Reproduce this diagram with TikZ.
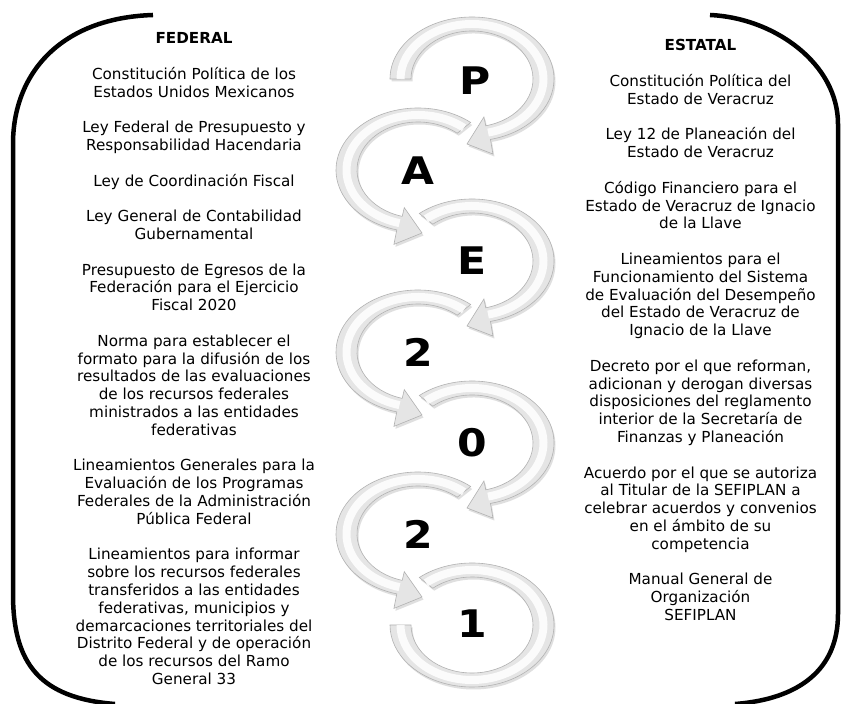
\documentclass[tikz,border=0pt]{standalone}
\usepackage{fontspec}
\setmainfont{DejaVu Sans}
\usepackage{tikz}
\usetikzlibrary{
    calc,
    shadows
}
\tikzset{
    ring body/.style={fill=gray!20, draw=gray!60, line width=0.6pt,
        drop shadow={shadow xshift=1.5pt, shadow yshift=-2.5pt, opacity=0.25}},
    ring shine/.style={draw=white, line width=8pt, opacity=0.85},
    % clockwise ring, tail at angle #1, head at the bottom pointing left
    pics/cw ring/.style={code={
        \path[ring body] (#1:82 and 62) arc[start angle=#1, end angle=-77, x radius=82, y radius=62]
            -- (-77:93 and 77) -- (-5,-65) -- (-77:53 and 39) -- (-77:61 and 48)
            arc[start angle=-77, end angle=#1, x radius=61, y radius=48] -- cycle;
        \draw[ring shine] (#1:71.5 and 55) arc[start angle=#1, end angle=-77, x radius=71.5, y radius=55];
    }},
    % counter-clockwise ring, tail at angle #1, head at the bottom pointing right
    pics/ccw ring/.style={code={
        \path[ring body] (#1:82 and 62) arc[start angle=#1, end angle=255, x radius=82, y radius=62]
            -- (255:93 and 77) -- (4,-63) -- (255:53 and 39) -- (255:61 and 48)
            arc[start angle=255, end angle=#1, x radius=61, y radius=48] -- cycle;
        \draw[ring shine] (#1:71.5 and 55) arc[start angle=#1, end angle=255, x radius=71.5, y radius=55];
    }},
    % last ring, no head
    pics/end ring/.style={code={
        \path[ring body] (#1:82 and 62) arc[start angle=#1, end angle=-180, x radius=82, y radius=62]
            -- (-180:61 and 48)
            arc[start angle=-180, end angle=#1, x radius=61, y radius=48] -- cycle;
        \draw[ring shine] (#1:71.5 and 55) arc[start angle=#1, end angle=-180, x radius=71.5, y radius=55];
    }}
}

\begin{document}
\begin{tikzpicture}[
        x=1pt, y=1pt,
        bracket/.style={line width=4.5pt, line cap=butt},
        big letter/.style={font=\fontsize{38}{40}\selectfont\bfseries, inner sep=0pt, xscale=1.12},
        law text/.style={align=center, inner sep=0pt, font=\fontsize{15.2}{17.8}\selectfont}
    ]
    \path[use as bounding box, fill=white] (0,0) rectangle (841,704);

    % ring centres
    \coordinate (cP) at (472,625);
    \coordinate (cA) at (418,534);
    \coordinate (cE) at (472,443);
    \coordinate (c2a) at (418,352);
    \coordinate (c0) at (472,261);
    \coordinate (c2b) at (418,170);
    \coordinate (c1) at (472,79);

    % rings, bottom first so every head lies on the next tail
    \pic at (c1) {end ring=130};
    \pic at (c2b) {ccw ring=50};
    \pic at (c0) {cw ring=130};
    \pic at (c2a) {ccw ring=50};
    \pic at (cE) {cw ring=130};
    \pic at (cA) {ccw ring=50};
    \pic at (cP) {cw ring=180};

    \node[big letter] (lP) at ([xshift=3pt, yshift=-2pt]cP) {P};
    \node[big letter] (lA) at ([yshift=-1pt]cA) {A};
    \node[big letter] (lE) at (cE) {E};
    \node[big letter] (l2a) at (c2a) {2};
    \node[big letter] (l0) at (c0) {0};
    \node[big letter] (l2b) at (c2b) {2};
    \node[big letter] (l1) at ([yshift=1pt]c1) {1};

    % brackets
    \draw[bracket] (153,689) .. controls (60,686) and (13,630) .. (13,560)
        -- (13,110) .. controls (13,40) and (40,6) .. (115,0);
    \draw[bracket] (710,689) .. controls (775,686) and (838,640) .. (838,580)
        -- (838,90) .. controls (838,35) and (800,5) .. (735,0);

    \node[law text, anchor=north] (federal) at (194,671.5) {%
        \textbf{FEDERAL}\\[17.8pt]
        Constitución Política de los\\ Estados Unidos Mexicanos\\[17.8pt]
        Ley Federal de Presupuesto y\\ Responsabilidad Hacendaria\\[17.8pt]
        Ley de Coordinación Fiscal\\[17.8pt]
        Ley General de Contabilidad\\ Gubernamental\\[17.8pt]
        Presupuesto de Egresos de la\\ Federación para el Ejercicio\\ Fiscal 2020\\[17.8pt]
        Norma para establecer el\\ formato para la difusión de los\\ resultados de las evaluaciones\\
        de los recursos federales\\ ministrados a las entidades\\ federativas\\[17.8pt]
        Lineamientos Generales para la\\ Evaluación de los Programas\\
        Federales de la Administración\\ Pública Federal\\[17.8pt]
        Lineamientos para informar\\ sobre los recursos federales\\ transferidos a las entidades\\
        federativas, municipios y\\ demarcaciones territoriales del\\ Distrito Federal y de operación\\
        de los recursos del Ramo\\ General 33};

    \node[law text, anchor=north] (estatal) at (700.5,664.5) {%
        \textbf{ESTATAL}\\[17.8pt]
        Constitución Política del\\ Estado de Veracruz\\[17.8pt]
        Ley 12 de Planeación del\\ Estado de Veracruz\\[17.8pt]
        Código Financiero para el\\ Estado de Veracruz de Ignacio\\ de la Llave\\[17.8pt]
        Lineamientos para el\\ Funcionamiento del Sistema\\ de Evaluación del Desempeño\\
        del Estado de Veracruz de\\ Ignacio de la Llave\\[17.8pt]
        Decreto por el que reforman,\\ adicionan y derogan diversas\\ disposiciones del reglamento\\
        interior de la Secretaría de\\ Finanzas y Planeación\\[17.8pt]
        Acuerdo por el que se autoriza\\ al Titular de la SEFIPLAN a\\ celebrar acuerdos y convenios\\
        en el ámbito de su\\ competencia\\[17.8pt]
        Manual General de\\ Organización\\ SEFIPLAN};
\end{tikzpicture}
\end{document}
